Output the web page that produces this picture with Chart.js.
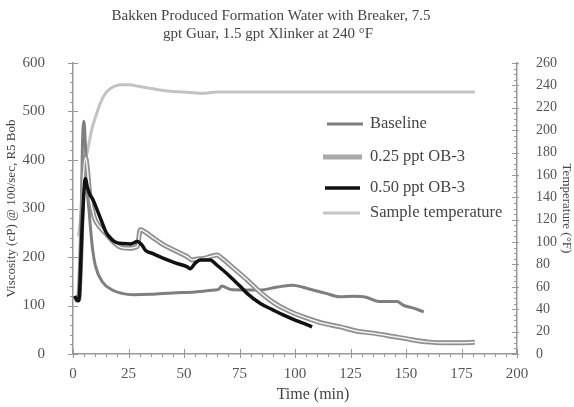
<!DOCTYPE html>
<html>
<head>
<meta charset="utf-8">
<script src="https://cdn.jsdelivr.net/npm/chart.js@4/dist/chart.umd.min.js"></script>
<style>
  body { margin: 0; background: #fff; }
  #wrap { width: 574px; height: 407px; }
</style>
</head>
<body>
<div id="wrap"><canvas id="myChart" width="574" height="407"></canvas></div>
<script>
// data
var titleLines = ["Bakken Produced Formation Water with Breaker, 7.5", "gpt Guar, 1.5 gpt Xlinker at 240 \u00B0F"];
var seriesNames = ["Baseline", "0.25 ppt OB-3", "0.50 ppt OB-3", "Sample temperature"];
var xTitle = "Time (min)";

var baselineTime = [1, 2, 3, 3.5, 4.2, 4.9, 5.6, 6.4, 7.2, 8.7, 10.2, 13.2, 17.7, 22, 27, 35, 45, 55, 64, 65.5, 67, 71, 78, 84, 92, 99, 104, 108, 114, 120, 126, 132, 138, 146, 149, 153, 158];
var baselineVisc = [112, 112, 115, 200, 420, 480, 430, 340, 297, 221, 180, 149, 132, 125, 122, 123, 126, 128, 132, 133, 140, 133, 132, 132, 138, 142, 137, 132, 125, 118, 119, 117, 108, 108, 100, 95, 87];

var ob25Time = [1, 2.5, 3.5, 4.5, 5.7, 6.5, 7.5, 9.5, 12, 14.7, 18, 21, 25, 29, 30.3, 33, 36, 40.8, 46, 51.3, 53.6, 56, 58.8, 62, 64.9, 66.4, 72, 78.4, 84.4, 90, 94.9, 100, 105.4, 112, 120.4, 128, 135.4, 144.4, 152, 159.5, 167, 174.5, 181];
var ob25Visc = [112, 112, 200, 350, 405, 380, 330, 283, 262, 249, 232, 221, 218, 222, 256, 250, 240, 225, 213, 201, 194, 196, 197, 201, 204, 200, 178, 153, 127, 107, 94, 83, 74, 64, 56, 47, 43, 36, 30, 25, 23, 23, 24];

var ob50Time = [0.8, 1.5, 2.5, 3, 4, 5, 5.6, 6.4, 7.5, 9, 10.2, 11.5, 13.2, 15, 17.7, 20, 22, 26, 29, 31, 32.6, 36, 40.8, 46, 51.3, 52.8, 55, 57.3, 61.8, 64.9, 70, 75.4, 78.4, 84.4, 90, 94.9, 100, 104, 107.7];
var ob50Visc = [120, 112, 110, 130, 250, 340, 362, 345, 330, 318, 305, 290, 270, 250, 235, 229, 228, 227, 232, 225, 214, 207, 197, 188, 180, 176, 187, 194, 194, 183, 163, 139, 125, 104, 91, 80, 70, 63, 56];

var tempTime = [2.5, 4, 5, 6, 7.2, 8.5, 10.2, 12.5, 14.7, 17, 19.2, 22, 25, 30, 36, 42.5, 50, 58, 65, 80, 100, 120, 140, 160, 181];
var tempF = [105, 131, 160, 176, 188, 201, 212, 225, 233, 237.5, 239.5, 240.5, 240.5, 239, 237, 235, 234, 233, 234, 234, 234, 234, 234, 234, 234];

var xTicks = [0, 200, 25];     // min, max, step
var yTicks = [0, 600, 100];
var y2Ticks = [0, 260, 20];

function toPoints(xs, ys) {
    var pts = [];
    for (var i = 0; i < xs.length; i++) {
        pts.push({ x: xs[i], y: ys[i] });
    }
    return pts;
}

var serif = "'Liberation Serif', 'Times New Roman', serif";

// title, legend, x title and minor ticks
var decorations = {
    id: 'decorations',
    afterDraw: function (chart) {
        var ctx = chart.ctx;
        var area = chart.chartArea;
        ctx.save();

        ctx.fillStyle = '#444';
        ctx.font = "15px " + serif;
        ctx.textAlign = 'center';
        ctx.textBaseline = 'middle';
        ctx.fillText(titleLines[0], 271, 16);
        ctx.fillText(titleLines[1], 268, 34);

        ctx.font = "16px " + serif;
        ctx.fillText(xTitle, 313, 395);

        // minor ticks
        ctx.strokeStyle = '#999';
        ctx.lineWidth = 1;
        var xs = chart.scales.x, ys = chart.scales.y, y2 = chart.scales.y2;
        ctx.beginPath();
        for (var t = 0; t <= 200; t += 5) {
            var px = Math.round(xs.getPixelForValue(t)) + 0.5;
            if (t % 25 == 0) { ctx.moveTo(px, area.bottom - 5); ctx.lineTo(px, area.bottom + 4); }
            else { ctx.moveTo(px, area.bottom); ctx.lineTo(px, area.bottom + 3); }
        }
        for (var v = 0; v <= 600; v += 20) {
            var py = Math.round(ys.getPixelForValue(v)) + 0.5;
            if (v % 100 == 0) { ctx.moveTo(area.left - 5, py); ctx.lineTo(area.left + 5, py); }
            else { ctx.moveTo(area.left - 3, py); ctx.lineTo(area.left, py); }
        }
        for (var w = 0; w <= 260; w += 5) {
            var py2 = Math.round(y2.getPixelForValue(w)) + 0.5;
            if (w % 20 == 0) { ctx.moveTo(area.right - 5, py2); ctx.lineTo(area.right + 2, py2); }
            else { ctx.moveTo(area.right - 3, py2); ctx.lineTo(area.right, py2); }
        }
        ctx.stroke();

        // legend
        var rows = [
            { y: 124, ds: 0, x0: 327, x1: 363 },
            { y: 157, ds: 2, x0: 323, x1: 362 },
            { y: 188, ds: 3, x0: 325, x1: 360 },
            { y: 213, ds: 4, x0: 323, x1: 360 }
        ];
        ctx.font = "16.5px " + serif;
        ctx.textAlign = 'left';
        for (var i = 0; i < rows.length; i++) {
            var d = chart.data.datasets[rows[i].ds];
            ctx.strokeStyle = d.legendColor || d.borderColor;
            ctx.lineWidth = d.borderWidth;
            ctx.beginPath();
            ctx.moveTo(rows[i].x0, rows[i].y);
            ctx.lineTo(rows[i].x1, rows[i].y);
            ctx.stroke();
            ctx.fillStyle = '#444';
            ctx.fillText(seriesNames[i], 370, rows[i].y);
        }
        ctx.restore();
    }
};

var lineOpts = { pointRadius: 0, cubicInterpolationMode: 'monotone', fill: false };

var ctx = document.getElementById("myChart").getContext('2d');
var myChart = new Chart(ctx, {
    type: 'scatter',
    data: {
        datasets: [
            Object.assign({ label: seriesNames[0], data: toPoints(baselineTime, baselineVisc), borderColor: '#7f7f7f', borderWidth: 3, showLine: true, yAxisID: 'y', order: 3 }, lineOpts),
            Object.assign({ label: seriesNames[1] + ' core', data: toPoints(ob25Time, ob25Visc), borderColor: '#f2f2f2', borderWidth: 1.5, showLine: true, yAxisID: 'y', order: 1 }, lineOpts),
            Object.assign({ label: seriesNames[1], data: toPoints(ob25Time, ob25Visc), borderColor: '#8f8f8f', legendColor: '#a9a9a9', borderWidth: 5, showLine: true, yAxisID: 'y', order: 2 }, lineOpts),
            Object.assign({ label: seriesNames[2], data: toPoints(ob50Time, ob50Visc), borderColor: '#111', borderWidth: 3.5, showLine: true, yAxisID: 'y', order: 0 }, lineOpts),
            Object.assign({ label: seriesNames[3], data: toPoints(tempTime, tempF), borderColor: '#c3c3c3', borderWidth: 3, showLine: true, yAxisID: 'y2', order: 4 }, lineOpts)
        ]
    },
    options: {
        responsive: false,
        animation: false,
        devicePixelRatio: 1,
        layout: { padding: { top: 63, left: 0, right: 0, bottom: 0 } },
        plugins: { legend: { display: false }, tooltip: { enabled: false } },
        scales: {
            x: {
                type: 'linear', min: xTicks[0], max: xTicks[1],
                afterFit: function (s) { s.height = 53; },
                grid: { display: false },
                border: { display: true, color: '#999', width: 1.5 },
                ticks: { stepSize: xTicks[2], padding: 3, color: '#555', font: { family: serif, size: 15 } }
            },
            y: {
                position: 'left', min: yTicks[0], max: yTicks[1],
                afterFit: function (s) { s.width = 73; },
                grid: { display: false },
                border: { display: true, color: '#999', width: 1.5 },
                ticks: { stepSize: yTicks[2], padding: 20, color: '#555', font: { family: serif, size: 15 } },
                title: { display: true, text: 'Viscosity (cP) @ 100/sec, R5 Bob', color: '#444', padding: { top: 4, bottom: 0 }, font: { family: serif, size: 13 } }
            },
            y2: {
                position: 'right', min: y2Ticks[0], max: y2Ticks[1],
                afterFit: function (s) { s.width = 57; },
                grid: { display: false },
                border: { display: true, color: '#999', width: 1.5 },
                ticks: { stepSize: y2Ticks[2], padding: 11, color: '#555', font: { family: serif, size: 14 } },
                title: { display: true, text: 'Temperature (\u00B0F)', color: '#444', padding: { top: 0, bottom: 0 }, font: { family: serif, size: 13 } }
            }
        }
    },
    plugins: [decorations]
});
</script>
</body>
</html>
